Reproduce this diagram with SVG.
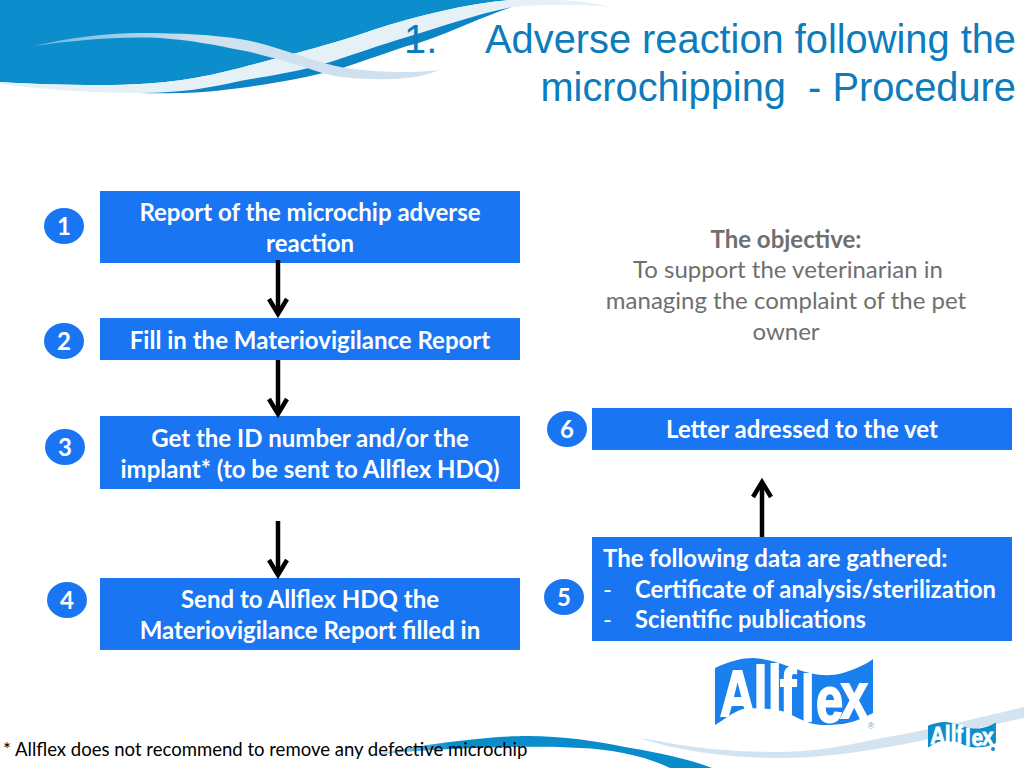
<svg xmlns="http://www.w3.org/2000/svg" width="1024" height="768" viewBox="0 0 1024 768">
<style>
.box{fill:#1a75f2}
.t{font-family:"Lato","Liberation Sans",sans-serif;font-size:24px;font-weight:700;fill:#fff}
.d{font-family:"Lato","Liberation Sans",sans-serif;font-size:24px;font-weight:400;fill:#fff}
.m{text-anchor:middle}
.n{font-family:"Lato","Liberation Sans",sans-serif;font-size:24px;font-weight:700;fill:#fff;text-anchor:middle}
.g{font-family:"Lato","Liberation Sans",sans-serif;font-size:24px;fill:#6f6f6f;text-anchor:middle}
.h{font-family:"Liberation Sans",Arial,sans-serif;font-size:39.8px;fill:#0c7cbc}
.a{fill:none;stroke:#000;stroke-width:4.5;marker-end:url(#ah)}
.lg{font-family:"Liberation Sans",Arial,sans-serif;font-weight:700;font-size:65px;fill:#fff;stroke:#fff;stroke-width:2}
</style>
<defs>
<marker id="ah" markerUnits="userSpaceOnUse" markerWidth="24" markerHeight="24" refX="19" refY="10" orient="auto" overflow="visible">
<path d="M4 1 L19 10 L4 19" fill="none" stroke="#000" stroke-width="4.5"/>
</marker>
<linearGradient id="sw" gradientUnits="userSpaceOnUse" x1="33" y1="0" x2="200" y2="0">
<stop offset="0" stop-color="#6db8e2"/><stop offset="1" stop-color="#cfe0ee"/>
</linearGradient>
<linearGradient id="ft" gradientUnits="userSpaceOnUse" x1="370" y1="0" x2="450" y2="0">
<stop offset="0" stop-color="#0a8ccb" stop-opacity="0.2"/><stop offset="1" stop-color="#0a8ccb"/>
</linearGradient>
</defs>
<g id="banner">
<path d="M0 0H510C465 4 420 15 373 30C340 42 300 52 240 68C200 78 167 85 100 85C60 85 30 84 0 82Z" fill="#0c8dcc"/>
<path d="M0 82C30 84 60 85 100 85C167 85 200 78 240 68C300 52 340 42 373 30C420 15 465 4 510 0H560C580 1 600 4 612 7C580 4 545 4 512 7C480 13 440 27 407 37C380 45 355 54 327 63C305 70 275 75 240 81C210 88 180 93 140 93C90 93 40 89 0 84Z" fill="#e6f0f7"/>
<path d="M140 93C180 93 210 88 240 81C275 75 305 70 327 63C355 54 380 45 407 37C440 27 480 13 512 7C480 17 440 38 407 46C380 55 360 62 340 69C305 78 270 84 240 88C205 93 170 94 140 93Z" fill="#0c84c6"/>
<path d="M33 46C70 38 105 33 140 33C180 33 215 35 240 39C252 41 263 44 273 47C285 51 296 54 307 58C320 62 330 65 345 68C380 73 415 73 440 70C420 78 395 80 375 79C360 79 350 78 340 77C328 75 318 72 307 68C295 64 285 61 273 58C262 55 252 52 240 50C215 45 190 40 160 38C115 36 70 41 33 46Z" fill="url(#sw)"/>
</g>
<g id="footer-wave">
<path d="M370 755C430 743 490 736 527 736C565 736 595 741 625 747C650 751 690 759 712 768H670C650 758 615 749 580 748C530 745 440 748 370 755Z" fill="url(#ft)"/>
<path d="M640 738C655 740 668 743 680 745C715 750 745 752 780 752C830 752 880 737 900 735C950 725 990 715 1024 707V718C990 725 950 735 900 745C860 752 820 758 780 758C735 758 680 752 640 738Z" fill="#d3e3f0"/>
</g>
<g id="title">
<text class="h" x="404" y="53">1.</text>
<text class="h" x="1016" y="53" text-anchor="end">Adverse reaction following the</text>
<text class="h" x="1016" y="101" text-anchor="end" xml:space="preserve">microchipping  - Procedure</text>
</g>
<g id="node1">
<ellipse class="box" cx="64" cy="226" rx="20" ry="18"/><text class="n" x="64" y="235">1</text>
<rect class="box" x="100" y="191" width="420" height="72"/>
<text class="t m" x="310" y="220.5">Report of the microchip adverse</text>
<text class="t m" x="310" y="251.5">reaction</text>
</g>
<g id="node2">
<ellipse class="box" cx="64" cy="341" rx="20" ry="18"/><text class="n" x="64" y="350">2</text>
<rect class="box" x="100" y="318" width="420" height="42"/>
<text class="t m" x="310" y="348.5">Fill in the Materiovigilance Report</text>
</g>
<g id="node3">
<ellipse class="box" cx="65" cy="447" rx="20" ry="18"/><text class="n" x="65" y="456">3</text>
<rect class="box" x="100" y="416" width="420" height="73"/>
<text class="t m" x="310" y="446.5">Get the ID number and/or the</text>
<text class="t m" x="310" y="477.5">implant* (to be sent to Allflex HDQ)</text>
</g>
<g id="node4">
<ellipse class="box" cx="67" cy="600" rx="20" ry="18"/><text class="n" x="67" y="608.5">4</text>
<rect class="box" x="100" y="578" width="420" height="72"/>
<text class="t m" x="310" y="607.5">Send to Allflex HDQ the</text>
<text class="t m" x="310" y="638.5">Materiovigilance Report filled in</text>
</g>
<g id="node5">
<ellipse class="box" cx="564" cy="597" rx="20" ry="18"/><text class="n" x="564" y="605.5">5</text>
<rect class="box" x="592" y="537" width="420" height="104"/>
<text class="t" x="603" y="566.5">The following data are gathered:</text>
<text class="d" x="603" y="597.5">-</text><text class="t" x="635" y="597.5" textLength="361" lengthAdjust="spacingAndGlyphs">Certificate of analysis/sterilization</text>
<text class="d" x="603" y="628">-</text><text class="t" x="635" y="628" textLength="231" lengthAdjust="spacingAndGlyphs">Scientific publications</text>
</g>
<g id="node6">
<ellipse class="box" cx="567" cy="429" rx="20" ry="18"/><text class="n" x="567" y="437.5">6</text>
<rect class="box" x="592" y="408" width="420" height="42"/>
<text class="t m" x="802" y="437.5">Letter adressed to the vet</text>
</g>
<g id="objective">
<text class="g" x="786" y="247.5" style="font-weight:700">The objective:</text>
<text class="g" x="788" y="278">To support the veterinarian in</text>
<text class="g" x="786" y="309">managing the complaint of the pet</text>
<text class="g" x="786" y="340">owner</text>
</g>
<g id="connectors">
<path class="a" d="M278 260V314"/>
<path class="a" d="M278 360V414"/>
<path class="a" d="M278 521V575"/>
<path class="a" d="M762 537V482"/>
</g>
<g id="logo-large">
<path d="M715 668C730 661 742 658 753 658C775 659 790 668 810 673C822 676 832 676 843 673C855 669 865 665 873 659V713C865 717 855 722 843 724C830 725 820 726 810 723C795 718 790 712 777 710C765 708 755 708 743 709C733 712 725 719 715 725Z" fill="#1a80ee"/>
<text class="lg" transform="translate(720 0) scale(.75 1)" x="0 45 64 80 108 128 161" y="716 712 711 714 721 722 718">Allflex</text>
<text x="871" y="729" font-family="Liberation Sans,sans-serif" font-size="9" fill="#9a9a9a" text-anchor="middle">®</text>
</g>
<g id="logo-small">
<g transform="translate(928 722) scale(.43 .38) translate(-715 -658)">
<path d="M715 668C730 661 742 658 753 658C775 659 790 668 810 673C822 676 832 676 843 673C855 669 865 665 873 659V713C865 717 855 722 843 724C830 725 820 726 810 723C795 718 790 712 777 710C765 708 755 708 743 709C733 712 725 719 715 725Z" fill="#0c8dcc"/>
<text class="lg" transform="translate(720 0) scale(.75 1)" x="0 45 64 80 108 128 161" y="716 712 711 714 721 722 718">Allflex</text>
</g>
<circle cx="993" cy="749" r="2" fill="#0c8dcc"/>
</g>
<text id="footnote" x="3" y="756" font-family="Lato,Liberation Sans,sans-serif" font-size="18.55" fill="#000">* Allflex does not recommend to remove any defective microchip</text>
</svg>
